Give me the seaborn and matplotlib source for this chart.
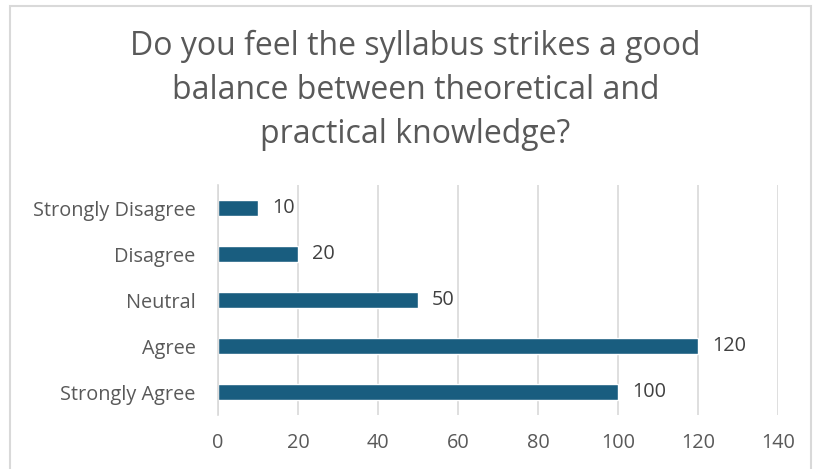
import matplotlib
matplotlib.use("Agg")
import matplotlib.pyplot as plt
import seaborn as sns
import pandas as pd
from matplotlib.patches import Rectangle

categories = ["Strongly Disagree", "Disagree", "Neutral", "Agree", "Strongly Agree"]
values = [10, 20, 50, 120, 100]
xticks = [0, 20, 40, 60, 80, 100, 120, 140]
title = "Do you feel the syllabus strikes a good\nbalance between theoretical and\npractical knowledge?"

sns.set_theme(style="white")
plt.rcParams['font.family'] = ['Open Sans', 'DejaVu Sans']

df = pd.DataFrame({"cat": categories, "val": values})

fig = plt.figure(figsize=(8.13, 4.69), dpi=100)
ax = fig.add_axes([0.268, 0.115, 0.689, 0.49])
sns.barplot(data=df, x="val", y="cat", orient="h", color="#195D7F",
            width=0.35, saturation=1, ax=ax, order=categories)

ax.set_xlim(0, 140)
ax.set_xticks(xticks)
ax.set_xticklabels([str(t) for t in xticks])
ax.set_xlabel("")
ax.set_ylabel("")
ax.xaxis.grid(True, color="#D9D9D9", linewidth=1.2)
ax.set_axisbelow(True)
for s in ["top", "right", "bottom"]:
    ax.spines[s].set_visible(False)
ax.spines["left"].set_color("#D9D9D9")
ax.spines["left"].set_linewidth(1.2)
ax.tick_params(axis="both", length=0, labelsize=14.3, labelcolor="#595959")
ax.tick_params(axis="x", pad=13)
ax.tick_params(axis="y", pad=16)

for i, v in enumerate(values):
    ax.annotate(str(v), xy=(v, i), xytext=(10, 0), textcoords="offset points",
                va="center", ha="left", fontsize=14.3, color="#404040")

fig.text(0.511, 0.937, title, ha="center", va="top", fontsize=23,
         color="#595959", linespacing=1.45)

fig.patches.append(Rectangle((10/813, -0.05), (801)/813, 1.05 - 6/469,
                             transform=fig.transFigure, fill=False,
                             edgecolor="#D9D9D9", linewidth=1.5))

fig.savefig("out.png", dpi=100, facecolor="white")
